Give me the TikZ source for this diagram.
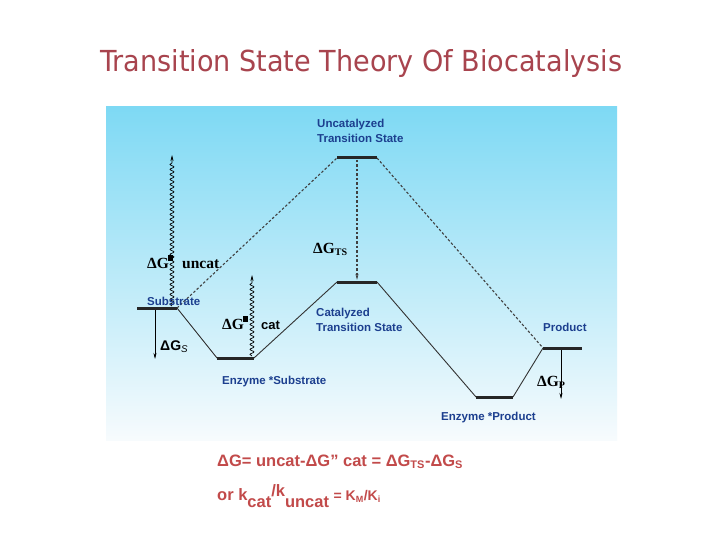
\documentclass[tikz,border=0pt]{standalone}
\usepackage{fontspec}
\setmainfont{Liberation Sans}
\newfontfamily\serifb{Liberation Serif}
\newfontfamily\titlefont{DejaVu Sans}
\usetikzlibrary{decorations.pathmorphing,arrows.meta}
\definecolor{titlered}{HTML}{A8444E}
\definecolor{labblue}{HTML}{1C3F8F}
\definecolor{formred}{HTML}{C24A4A}
\definecolor{skytop}{HTML}{7ED9F4}
\definecolor{skybot}{HTML}{F7FBFD}
\begin{document}
\begin{tikzpicture}[x=1pt,y=-1pt,
  levelbar/.style={line width=3pt,black!85},
  path/.style={line width=0.9pt,black!80},
  dashpath/.style={line width=1.1pt,black!75,dash pattern=on 2.5pt off 2pt},
  wavy/.style={line width=0.7pt,black,decorate,decoration={snake,segment length=5pt,amplitude=2pt,post length=7pt},-{Stealth[length=6pt,width=3pt]}},
  thinarrow/.style={line width=0.6pt,black,-{Stealth[length=6pt,width=3pt]}},
  bluelab/.style={text=labblue,font=\bfseries\fontsize{11.5}{15}\selectfont,inner sep=0pt,align=left},
  dglab/.style={font=\serifb\bfseries\fontsize{15.5}{16}\selectfont,inner sep=0pt},
  sqbox/.style={fill=black,inner sep=0pt,minimum width=5pt,minimum height=6pt}
]
\useasboundingbox (0,0) rectangle (720,540);
\fill[white] (0,0) rectangle (720,540);
\shade[top color=skytop,bottom color=skybot] (106,107) rectangle (617,440);

% title
\node[anchor=base west,inner sep=0pt,text=titlered] (title) at (100,72)
  {\resizebox{522pt}{22pt}{\titlefont Transition State Theory Of Biocatalysis}};

% level coordinates
\coordinate (s1) at (137,308); \coordinate (s2) at (177,308);
\coordinate (es1) at (217,358); \coordinate (es2) at (254,358);
\coordinate (ct1) at (337,282); \coordinate (ct2) at (377,282);
\coordinate (ut1) at (337,158); \coordinate (ut2) at (377,158);
\coordinate (ep1) at (476,397); \coordinate (ep2) at (513,397);
\coordinate (p1) at (543,348); \coordinate (p2) at (582,348);

% paths
\draw[path] (s2) -- (es1);
\draw[path] (es2) -- (ct1);
\draw[path] (ct2) -- (ep1);
\draw[path] (ep2) -- (p1);
\draw[dashpath] (s2) -- (ut1);
\draw[dashpath] (ut2) -- (p1);

% bars
\draw[levelbar] (s1) -- (s2);
\draw[levelbar] (es1) -- (es2);
\draw[levelbar] (ct1) -- (ct2);
\draw[levelbar] (ut1) -- (ut2);
\draw[levelbar] (ep1) -- (ep2);
\draw[levelbar] (p1) -- (p2);

% arrows
\coordinate (tsTop) at (357,160); \coordinate (tsBot) at (357,280);
\draw[dashpath,-{Stealth[length=6pt,width=3pt]}] (tsTop) -- (tsBot);
\coordinate (wu0) at (172,306); \coordinate (wu1) at (172,155);
\draw[wavy] (wu0) -- (wu1);
\coordinate (wc0) at (252,356); \coordinate (wc1) at (252,275);
\draw[wavy] (wc0) -- (wc1);
\coordinate (gs0) at (155,310); \coordinate (gs1) at (155,359);
\draw[thinarrow] (gs0) -- (gs1);
\coordinate (gp0) at (561,350); \coordinate (gp1) at (561,399);
\draw[thinarrow] (gp0) -- (gp1);

% labels
\node[bluelab,anchor=north west] (uts) at (317,119) {Uncatalyzed\\Transition State};
\node[bluelab,anchor=north west] (cts) at (316,308) {Catalyzed\\Transition State};
\node[bluelab,anchor=base west] (sub) at (147,305) {Substrate};
\node[bluelab,anchor=base west] (prod) at (543,331) {Product};
\node[bluelab,anchor=base west] (es) at (222,384) {Enzyme *Substrate};
\node[bluelab,anchor=base west] (ep) at (441,420) {Enzyme *Product};

\node[dglab,anchor=base west] (dgts) at (313,253) {ΔG\textsubscript{\fontsize{10}{10}\selectfont TS}};
\node[dglab,anchor=base west] (dgu) at (147,268) {ΔG};
\node[sqbox,anchor=north west] (squ) at (168,255) {};
\node[dglab,anchor=base west] (uncat) at (182,268) {uncat};
\node[dglab,anchor=base west] (dgc) at (222,329) {ΔG};
\node[sqbox,anchor=north west] (sqc) at (243,316) {};
\node[anchor=base west,inner sep=0pt,font=\bfseries\fontsize{13}{14}\selectfont] (cat) at (261,329) {cat};
\node[anchor=base west,inner sep=0pt,font=\bfseries\fontsize{14}{15}\selectfont] (dgs) at (160,350) {ΔG\textsubscript{\mdseries\itshape S}};
\node[dglab,anchor=base west] (dgp) at (537,386) {ΔG\textsubscript{\fontsize{10}{10}\selectfont P}};

% formulas
\node[anchor=base west,inner sep=0pt,text=formred,font=\bfseries\fontsize{16.5}{18}\selectfont] (f1) at (217,466)
  {ΔG= uncat-ΔG" cat = ΔG\textsubscript{\fontsize{11}{11}\selectfont TS}-ΔG\textsubscript{\fontsize{11}{11}\selectfont S}};
\node[anchor=base west,inner sep=0pt,text=formred,font=\bfseries\fontsize{16.5}{18}\selectfont] (f2) at (217,500)
  {or k\raisebox{-7pt}{cat}\raisebox{4pt}{/k}\raisebox{-7pt}{uncat} {\fontsize{14}{15}\selectfont = K\textsubscript{\fontsize{9}{9}\selectfont M}/K\textsubscript{\fontsize{9}{9}\selectfont i}}};
\end{tikzpicture}
\end{document}
